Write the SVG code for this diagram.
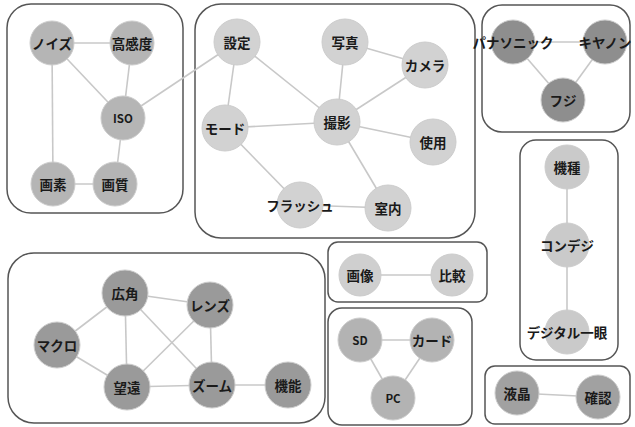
<svg xmlns="http://www.w3.org/2000/svg" width="635" height="427" viewBox="0 0 635 427">
<style>
.box{fill:#fff;stroke:#555;stroke-width:1.5}
.e{stroke:#c8c8c8;stroke-width:1.6;fill:none}
.n circle{stroke:#cccccc;stroke-width:1}
text{font-family:"Noto Sans CJK JP","Noto Sans",sans-serif;font-weight:bold;font-size:13.5px;fill:#1a1a1a;text-anchor:middle;dominant-baseline:central}
.s{font-size:11.5px}
.c1{fill:#b5b5b5}.c2{fill:#d2d2d2}.c3{fill:#8e8e8e}.c4{fill:#cacaca}.c5{fill:#9a9a9a}.c6{fill:#cfcfcf}.c7{fill:#b3b3b3}.c8{fill:#a1a1a1}
</style>
<rect width="635" height="427" fill="#fff"/>
<g id="boxes">
<rect class="box" x="7" y="4" width="176" height="209" rx="24"/>
<rect class="box" x="195" y="4" width="280" height="234" rx="26"/>
<rect class="box" x="482" y="5" width="148" height="127" rx="20"/>
<rect class="box" x="520" y="140" width="98" height="220" rx="16"/>
<rect class="box" x="8" y="253" width="317" height="170" rx="26"/>
<rect class="box" x="328" y="242" width="159" height="60" rx="10"/>
<rect class="box" x="328" y="308" width="144" height="117" rx="14"/>
<rect class="box" x="485" y="366" width="145" height="58" rx="10"/>
</g>
<g id="edges">
<line class="e" x1="52" y1="43" x2="132" y2="43"/>
<line class="e" x1="52" y1="43" x2="123" y2="118"/>
<line class="e" x1="132" y1="43" x2="123" y2="118"/>
<line class="e" x1="52" y1="43" x2="53" y2="184"/>
<line class="e" x1="123" y1="118" x2="115" y2="184"/>
<line class="e" x1="53" y1="184" x2="115" y2="184"/>
<line class="e" x1="123" y1="118" x2="237" y2="42"/>
<line class="e" x1="237" y1="42" x2="225" y2="128"/>
<line class="e" x1="237" y1="42" x2="337" y2="122"/>
<line class="e" x1="345" y1="42" x2="337" y2="122"/>
<line class="e" x1="345" y1="42" x2="425" y2="65"/>
<line class="e" x1="425" y1="65" x2="337" y2="122"/>
<line class="e" x1="225" y1="128" x2="337" y2="122"/>
<line class="e" x1="337" y1="122" x2="433" y2="142"/>
<line class="e" x1="337" y1="122" x2="388" y2="208"/>
<line class="e" x1="225" y1="128" x2="300" y2="205"/>
<line class="e" x1="300" y1="205" x2="388" y2="208"/>
<line class="e" x1="513" y1="42" x2="605" y2="42"/>
<line class="e" x1="513" y1="42" x2="563" y2="100"/>
<line class="e" x1="605" y1="42" x2="563" y2="100"/>
<line class="e" x1="567" y1="167" x2="567" y2="245"/>
<line class="e" x1="567" y1="245" x2="567" y2="332"/>
<line class="e" x1="125" y1="293" x2="210" y2="305"/>
<line class="e" x1="125" y1="293" x2="57" y2="345"/>
<line class="e" x1="125" y1="293" x2="127" y2="387"/>
<line class="e" x1="125" y1="293" x2="212" y2="385"/>
<line class="e" x1="210" y1="305" x2="127" y2="387"/>
<line class="e" x1="210" y1="305" x2="212" y2="385"/>
<line class="e" x1="57" y1="345" x2="127" y2="387"/>
<line class="e" x1="127" y1="387" x2="212" y2="385"/>
<line class="e" x1="212" y1="385" x2="288" y2="385"/>
<line class="e" x1="360" y1="275" x2="452" y2="275"/>
<line class="e" x1="360" y1="340" x2="432" y2="340"/>
<line class="e" x1="360" y1="340" x2="393" y2="398"/>
<line class="e" x1="432" y1="340" x2="393" y2="398"/>
<line class="e" x1="517" y1="393" x2="598" y2="397"/>
</g>
<g id="n-noise" class="n"><circle class="c1" cx="52" cy="43" r="22"/><text x="52" y="43">ノイズ</text></g>
<g id="n-kokando" class="n"><circle class="c1" cx="132" cy="43" r="22"/><text x="132" y="43">高感度</text></g>
<g id="n-iso" class="n"><circle class="c1" cx="123" cy="118" r="22"/><text class="s" x="123" y="118">ISO</text></g>
<g id="n-gaso" class="n"><circle class="c1" cx="53" cy="184" r="22"/><text x="53" y="184">画素</text></g>
<g id="n-gashitsu" class="n"><circle class="c1" cx="115" cy="184" r="22"/><text x="115" y="184">画質</text></g>
<g id="n-settei" class="n"><circle class="c2" cx="237" cy="42" r="23"/><text x="237" y="42">設定</text></g>
<g id="n-shashin" class="n"><circle class="c2" cx="345" cy="42" r="23"/><text x="345" y="42">写真</text></g>
<g id="n-camera" class="n"><circle class="c2" cx="425" cy="65" r="23"/><text x="425" y="65">カメラ</text></g>
<g id="n-mode" class="n"><circle class="c2" cx="225" cy="128" r="23"/><text x="225" y="128">モード</text></g>
<g id="n-satsuei" class="n"><circle class="c2" cx="337" cy="122" r="23"/><text x="337" y="122">撮影</text></g>
<g id="n-shiyo" class="n"><circle class="c2" cx="433" cy="142" r="23"/><text x="433" y="142">使用</text></g>
<g id="n-flash" class="n"><circle class="c2" cx="300" cy="205" r="23"/><text x="300" y="205">フラッシュ</text></g>
<g id="n-shitsunai" class="n"><circle class="c2" cx="388" cy="208" r="23"/><text x="388" y="208">室内</text></g>
<g id="n-panasonic" class="n"><circle class="c3" cx="513" cy="42" r="22"/><text x="513" y="42">パナソニック</text></g>
<g id="n-canon" class="n"><circle class="c3" cx="605" cy="42" r="22"/><text x="605" y="42">キヤノン</text></g>
<g id="n-fuji" class="n"><circle class="c3" cx="563" cy="100" r="22"/><text x="563" y="100">フジ</text></g>
<g id="n-kishu" class="n"><circle class="c4" cx="567" cy="167" r="22"/><text x="567" y="167">機種</text></g>
<g id="n-compact" class="n"><circle class="c4" cx="567" cy="245" r="22"/><text x="567" y="245">コンデジ</text></g>
<g id="n-dslr" class="n"><circle class="c4" cx="567" cy="332" r="22"/><text x="567" y="332">デジタル一眼</text></g>
<g id="n-kokaku" class="n"><circle class="c5" cx="125" cy="293" r="23"/><text x="125" y="293">広角</text></g>
<g id="n-lens" class="n"><circle class="c5" cx="210" cy="305" r="23"/><text x="210" y="305">レンズ</text></g>
<g id="n-macro" class="n"><circle class="c5" cx="57" cy="345" r="23"/><text x="57" y="345">マクロ</text></g>
<g id="n-boen" class="n"><circle class="c5" cx="127" cy="387" r="23"/><text x="127" y="387">望遠</text></g>
<g id="n-zoom" class="n"><circle class="c5" cx="212" cy="385" r="23"/><text x="212" y="385">ズーム</text></g>
<g id="n-kino" class="n"><circle class="c5" cx="288" cy="385" r="23"/><text x="288" y="385">機能</text></g>
<g id="n-gazo" class="n"><circle class="c6" cx="360" cy="275" r="21"/><text x="360" y="275">画像</text></g>
<g id="n-hikaku" class="n"><circle class="c6" cx="452" cy="275" r="21"/><text x="452" y="275">比較</text></g>
<g id="n-sd" class="n"><circle class="c7" cx="360" cy="340" r="22"/><text class="s" x="360" y="340">SD</text></g>
<g id="n-card" class="n"><circle class="c7" cx="432" cy="340" r="22"/><text x="432" y="340">カード</text></g>
<g id="n-pc" class="n"><circle class="c7" cx="393" cy="398" r="22"/><text class="s" x="393" y="398">PC</text></g>
<g id="n-ekisho" class="n"><circle class="c8" cx="517" cy="393" r="22"/><text x="517" y="393">液晶</text></g>
<g id="n-kakunin" class="n"><circle class="c8" cx="598" cy="397" r="22"/><text x="598" y="397">確認</text></g>
</svg>
